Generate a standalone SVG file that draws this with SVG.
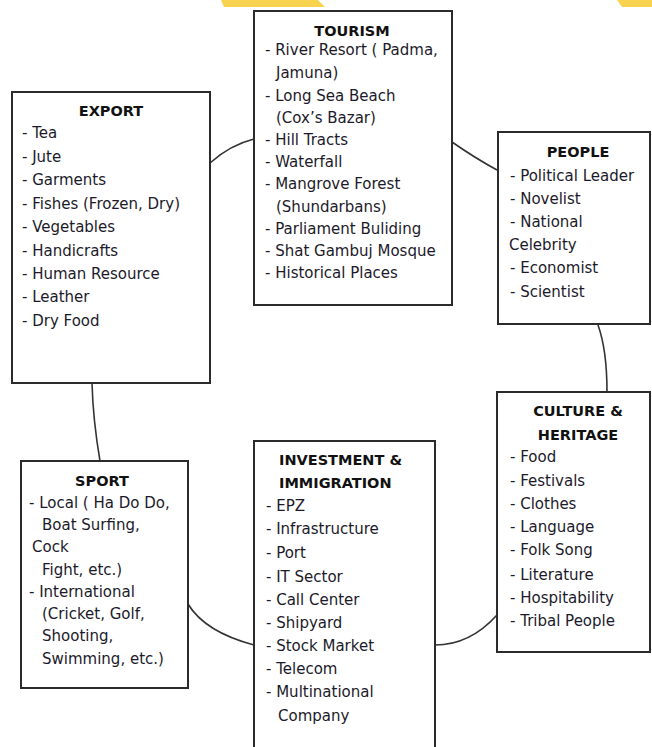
<svg xmlns="http://www.w3.org/2000/svg" width="652" height="747" viewBox="0 0 652 747">
<style>
.box{fill:#fff;stroke:#2b2b2b;stroke-width:2}
.t{font-family:"DejaVu Sans","Liberation Sans",sans-serif;font-size:15px;fill:#1c1a2a}
.h{font-family:"DejaVu Sans","Liberation Sans",sans-serif;font-size:14.5px;font-weight:bold;fill:#111;text-anchor:middle}
.c{fill:none;stroke:#333;stroke-width:1.6}
</style>
<rect width="652" height="747" fill="#fff"/>
<g id="decor">
<polygon points="221,0 318,0 325,7 224,7" fill="#f7d34f"/>
<polygon points="617,0 652,0 652,7 622,7" fill="#f7d34f"/>
</g>
<g id="connectors">
<path class="c" d="M210,163 Q230,145 254,139"/>
<path class="c" d="M452,142 Q475,158 497,170"/>
<path class="c" d="M598,325 Q607,350 607,392"/>
<path class="c" d="M92,383 Q93,420 100,461"/>
<path class="c" d="M188,604 Q205,632 254,645"/>
<path class="c" d="M435,645 Q470,645 497,615"/>
</g>
<g id="tourism">
<rect class="box" x="254" y="11" width="198" height="294"/>
<text class="h" x="352" y="36">TOURISM</text>
<text class="t" x="265" y="55">- River Resort ( Padma,</text>
<text class="t" x="276" y="78">Jamuna)</text>
<text class="t" x="265" y="101">- Long Sea Beach</text>
<text class="t" x="276" y="123">(Cox’s Bazar)</text>
<text class="t" x="265" y="145">- Hill Tracts</text>
<text class="t" x="265" y="167">- Waterfall</text>
<text class="t" x="265" y="189">- Mangrove Forest</text>
<text class="t" x="276" y="212">(Shundarbans)</text>
<text class="t" x="265" y="234">- Parliament Buliding</text>
<text class="t" x="265" y="256">- Shat Gambuj  Mosque</text>
<text class="t" x="265" y="278">- Historical Places</text>
</g>
<g id="export">
<rect class="box" x="12" y="92" width="198" height="291"/>
<text class="h" x="111" y="116">EXPORT</text>
<text class="t" x="22" y="138">- Tea</text>
<text class="t" x="22" y="162">- Jute</text>
<text class="t" x="22" y="185">- Garments</text>
<text class="t" x="22" y="209">- Fishes (Frozen, Dry)</text>
<text class="t" x="22" y="232">- Vegetables</text>
<text class="t" x="22" y="256">- Handicrafts</text>
<text class="t" x="22" y="279">- Human Resource</text>
<text class="t" x="22" y="302">- Leather</text>
<text class="t" x="22" y="326">- Dry Food</text>
</g>
<g id="people">
<rect class="box" x="498" y="132" width="152" height="192"/>
<text class="h" x="578" y="157">PEOPLE</text>
<text class="t" x="510" y="181">- Political Leader</text>
<text class="t" x="510" y="204">- Novelist</text>
<text class="t" x="510" y="227">- National</text>
<text class="t" x="509" y="250">Celebrity</text>
<text class="t" x="510" y="273">- Economist</text>
<text class="t" x="510" y="297">- Scientist</text>
</g>
<g id="culture">
<rect class="box" x="497" y="392" width="153" height="260"/>
<text class="h" x="578" y="416">CULTURE &amp;</text>
<text class="h" x="578" y="440">HERITAGE</text>
<text class="t" x="510" y="462">- Food</text>
<text class="t" x="510" y="486">- Festivals</text>
<text class="t" x="510" y="509">- Clothes</text>
<text class="t" x="510" y="532">- Language</text>
<text class="t" x="510" y="555">- Folk Song</text>
<text class="t" x="510" y="580">- Literature</text>
<text class="t" x="510" y="603">- Hospitability</text>
<text class="t" x="510" y="626">- Tribal People</text>
</g>
<g id="sport">
<rect class="box" x="21" y="461" width="167" height="227"/>
<text class="h" x="102" y="486">SPORT</text>
<text class="t" x="29" y="508">- Local ( Ha Do Do,</text>
<text class="t" x="42" y="530">Boat Surfing,</text>
<text class="t" x="32" y="552">Cock</text>
<text class="t" x="42" y="575">Fight, etc.)</text>
<text class="t" x="29" y="597">- International</text>
<text class="t" x="42" y="619">(Cricket, Golf,</text>
<text class="t" x="42" y="641">Shooting,</text>
<text class="t" x="42" y="664">Swimming, etc.)</text>
</g>
<g id="investment">
<rect class="box" x="254" y="441" width="181" height="320"/>
<text class="h" x="279" y="465" style="text-anchor:start">INVESTMENT &amp;</text>
<text class="h" x="279" y="488" style="text-anchor:start">IMMIGRATION</text>
<text class="t" x="266" y="511">- EPZ</text>
<text class="t" x="266" y="534">- Infrastructure</text>
<text class="t" x="266" y="558">- Port</text>
<text class="t" x="266" y="582">- IT Sector</text>
<text class="t" x="266" y="605">- Call Center</text>
<text class="t" x="266" y="628">- Shipyard</text>
<text class="t" x="266" y="651">- Stock Market</text>
<text class="t" x="266" y="674">- Telecom</text>
<text class="t" x="266" y="697">- Multinational</text>
<text class="t" x="278" y="721">Company</text>
</g>
</svg>
